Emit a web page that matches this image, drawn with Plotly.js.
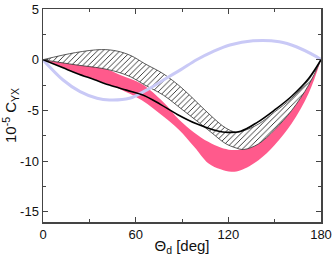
<!DOCTYPE html>
<html>
<head>
<meta charset="utf-8">
<script src="https://cdn.plot.ly/plotly-3.0.1.min.js"></script>
<style>html,body{margin:0;padding:0;background:#fff;}#chart{width:333px;height:256px;}</style>
</head>
<body>
<div id="chart"></div>
<script>
// Pink band (upper / lower bounds)
const pinkX      = [0, 20, 40, 50, 64, 78, 88, 98, 107, 115, 122, 128, 139.5, 150, 161, 172, 180];
const pinkUpper  = [0, -0.35, -0.9, -1.5, -2.4, -4.2, -5.9, -7.2, -8.1, -8.65, -8.9, -8.85, -8.3, -6.9, -5.0, -2.5, 0];
const pinkLower  = [0, -1.2, -2.3, -2.9, -4.0, -5.6, -6.9, -8.6, -10.2, -10.8, -11.05, -10.9, -9.9, -8.4, -6.3, -3.3, 0];

// Hatched band (upper / lower bounds)
const hatchX     = [0, 21, 38, 48, 57, 66, 78, 90, 101, 110, 118, 125, 130, 139.5, 150, 161, 172, 180];
const hatchUpper = [0, 0.7, 1.0, 0.85, 0.4, -0.4, -1.4, -2.8, -4.4, -5.7, -6.7, -7.15, -7.0, -6.35, -5.15, -3.8, -2.0, 0];
const hatchLower = [0, -0.5, -0.85, -1.2, -1.7, -2.5, -3.5, -4.9, -6.2, -7.3, -8.25, -8.7, -8.85, -8.3, -6.9, -5.0, -2.5, 0];

// Black solid curve
const blackX = [0, 13, 22, 33, 43, 54, 65, 76, 87, 99, 110, 118, 128, 139, 150, 161, 172, 180];
const blackY = [0, -0.8, -1.35, -1.95, -2.5, -3.0, -3.5, -4.4, -5.4, -6.3, -6.9, -7.15, -7.05, -6.15, -4.95, -3.6, -1.85, 0];

// Light blue curve
const blueX = [0, 13, 24, 35, 43, 56, 67, 78, 89, 99.5, 110, 121, 136, 153, 164, 177, 180];
const blueY = [0, -2.0, -3.15, -3.8, -3.97, -3.8, -3.0, -2.0, -1.0, 0, 0.8, 1.45, 1.87, 1.78, 1.28, 0.3, 0];

// Axis ticks
const xTicks = [0, 60, 120, 180];
const yTicks = [5, 0, -5, -10, -15];

const PINK = '#ff5a8c';
const traces = [
  {x: pinkX, y: pinkLower, mode: 'lines', line: {width: 0, shape: 'spline', color: PINK}, hoverinfo: 'skip'},
  {x: pinkX, y: pinkUpper, mode: 'lines', fill: 'tonexty', fillcolor: PINK, line: {width: 0, shape: 'spline', color: PINK}, hoverinfo: 'skip'},
  {x: hatchX, y: hatchLower, mode: 'lines', line: {width: 0.8, shape: 'spline', color: '#333'}, hoverinfo: 'skip'},
  {x: hatchX, y: hatchUpper, mode: 'lines', fill: 'tonexty', fillcolor: 'white',
   fillpattern: {shape: '/', size: 4, solidity: 0.22, fgcolor: '#222', bgcolor: 'white'},
   line: {width: 0.8, shape: 'spline', color: '#333'}, hoverinfo: 'skip'},
  {x: blueX, y: blueY, mode: 'lines', line: {width: 3, shape: 'spline', color: '#c9c9f6'}, hoverinfo: 'skip'},
  {x: blackX, y: blackY, mode: 'lines', line: {width: 1.6, shape: 'spline', color: '#000'}, hoverinfo: 'skip'}
];

const layout = {
  width: 333, height: 256,
  margin: {l: 43, r: 12, t: 9, b: 34},
  paper_bgcolor: 'white', plot_bgcolor: 'white',
  showlegend: false,
  font: {family: '"Liberation Sans", Arial, sans-serif', size: 13, color: '#111'},
  xaxis: {
    range: [0, 180], tickvals: xTicks, ticktext: xTicks.map(String),
    ticks: 'inside', ticklen: 5, tickcolor: '#444', tickwidth: 1,
    minor: {ticks: 'inside', dtick: 30, tick0: 0, ticklen: 3, tickcolor: '#444'},
    showline: true, linecolor: '#444', linewidth: 1.5, mirror: 'allticks',
    showgrid: false, zeroline: false,
    tickfont: {size: 13},
    title: {text: 'Θ<sub>d</sub> [deg]', font: {size: 15}, standoff: 2}
  },
  yaxis: {
    range: [-16, 5], tickvals: yTicks, ticktext: yTicks.map(String),
    ticks: 'inside', ticklen: 5, tickcolor: '#444', tickwidth: 1,
    minor: {ticks: 'inside', dtick: 2.5, tick0: 0, ticklen: 3, tickcolor: '#444'},
    showline: true, linecolor: '#444', linewidth: 1.5, mirror: 'allticks',
    showgrid: false, zeroline: false,
    tickfont: {size: 13},
    title: {text: '10<sup>-5</sup> C<sub>YX</sub>', font: {size: 15}, standoff: 4}
  }
};

Plotly.newPlot('chart', traces, layout, {staticPlot: true, displayModeBar: false});
</script>
</body>
</html>
